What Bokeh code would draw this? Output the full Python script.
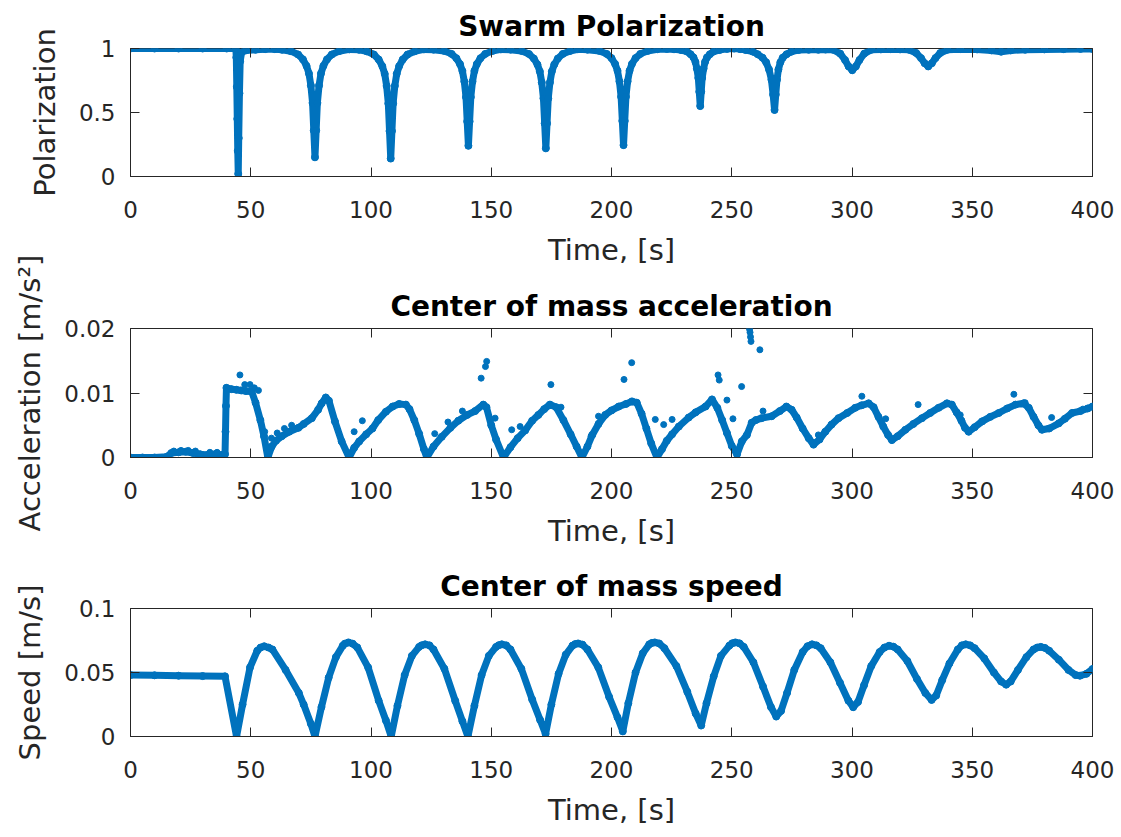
from bokeh.plotting import figure
from bokeh.layouts import column
from bokeh.models import Range1d, FixedTicker, LinearAxis
from bokeh.embed import file_html
from bokeh.resources import INLINE

# ---------------- data ----------------
x_ticks = [0, 50, 100, 150, 200, 250, 300, 350, 400]
pol_ticks = [0, 0.5, 1]
pol_tick_labels = ["0", "0.5", "1"]
acc_ticks = [0, 0.01, 0.02]
acc_tick_labels = ["0", "0.01", "0.02"]
spd_ticks = [0, 0.05, 0.1]
spd_tick_labels = ["0", "0.05", "0.1"]

titles = ["Swarm Polarization", "Center of mass acceleration", "Center of mass speed"]
x_label = "Time, [s]"
y_labels = ["Polarization", "Acceleration [m/s\u00b2]", "Speed [m/s]"]

pol_time = [0, 10, 20, 30, 40, 43.8, 44.0, 44.2, 44.4, 44.6, 44.8, 45.0, 45.3, 45.6, 46.2, 48, 52, 56, 60, 63,
            66.7, 69.7, 71.7, 73.2, 74.2, 75.0, 75.7, 76.2, 76.7, 77.2, 77.7, 78.4, 79.2, 80.2, 81.7, 83.7, 86.7,
            91, 95,
            98.2, 101.2, 103.2, 104.7, 105.7, 106.5, 107.2, 107.7, 108.2, 108.7, 109.2, 109.9, 110.7, 111.7, 113.2, 115.2, 118.2,
            122, 126,
            130.5, 133.5, 135.5, 137.0, 138.0, 138.8, 139.5, 140.0, 140.5, 141.0, 141.5, 142.2, 143.0, 144.0, 145.5, 147.5, 150.5,
            154, 158,
            162.7, 165.7, 167.7, 169.2, 170.2, 171.0, 171.7, 172.2, 172.7, 173.2, 173.7, 174.4, 175.2, 176.2, 177.7, 179.7, 182.7,
            186, 190,
            195.0, 198.0, 200.0, 201.5, 202.5, 203.3, 204.0, 204.5, 205.0, 205.5, 206.0, 206.7, 207.5, 208.5, 210.0, 212.0, 215.0,
            219, 223, 226,
            228.9, 231.4, 232.9, 234.1, 234.9, 235.5, 236.1, 236.5, 236.9, 237.3, 237.7, 238.3, 238.9, 239.7, 240.9, 242.4, 244.9,
            248, 251, 253.5,
            255.8, 258.8, 260.8, 262.8, 264.3, 265.5, 266.5, 267.2, 267.8, 268.3, 268.8, 269.4, 270.2, 271.2, 272.8, 274.8, 277.8,
            282, 286, 289,
            292.1, 295.1, 297.1, 298.6, 300.1, 301.6, 303.1, 305.1, 308.1,
            312, 316, 320,
            323.7, 326.7, 328.7, 330.2, 331.7, 333.2, 334.7, 336.7, 339.7,
            345, 352, 358, 362, 366, 372, 380, 388, 395, 400]
pol_value = [1.0, 1.0, 1.0, 1.0, 1.0, 1.0, 0.93, 0.7, 0.45, 0.2, 0.02, 0.3, 0.65, 0.9, 0.97, 0.985, 0.99, 0.995, 0.995, 0.99,
             0.979, 0.953, 0.915, 0.864, 0.805, 0.711, 0.575, 0.36, 0.15, 0.36, 0.575, 0.711, 0.805, 0.864, 0.915, 0.953, 0.979,
             0.993, 0.99,
             0.978, 0.953, 0.914, 0.862, 0.802, 0.708, 0.57, 0.355, 0.14, 0.355, 0.57, 0.708, 0.802, 0.862, 0.914, 0.953, 0.978,
             0.993, 0.991,
             0.981, 0.958, 0.924, 0.878, 0.825, 0.742, 0.62, 0.43, 0.24, 0.43, 0.62, 0.742, 0.825, 0.878, 0.924, 0.958, 0.981,
             0.993, 0.991,
             0.98, 0.957, 0.922, 0.875, 0.821, 0.735, 0.61, 0.415, 0.22, 0.415, 0.61, 0.735, 0.821, 0.875, 0.922, 0.957, 0.98,
             0.994, 0.991,
             0.981, 0.958, 0.925, 0.879, 0.826, 0.743, 0.623, 0.434, 0.245, 0.434, 0.623, 0.743, 0.826, 0.879, 0.925, 0.958, 0.981,
             0.994, 0.997, 0.994,
             0.988, 0.976, 0.955, 0.93, 0.895, 0.843, 0.77, 0.662, 0.55, 0.662, 0.77, 0.843, 0.895, 0.93, 0.955, 0.976, 0.988,
             0.997, 1.0, 0.995,
             0.988, 0.975, 0.955, 0.928, 0.892, 0.836, 0.756, 0.64, 0.52, 0.64, 0.756, 0.836, 0.892, 0.928, 0.955, 0.975, 0.988,
             0.99, 0.99, 0.992,
             0.99, 0.96, 0.91, 0.86, 0.83, 0.86, 0.91, 0.96, 0.99,
             0.993, 0.995, 0.993,
             0.99, 0.965, 0.925, 0.885, 0.86, 0.885, 0.925, 0.965, 0.99,
             0.995, 0.993, 0.985, 0.975, 0.985, 0.99, 0.993, 0.995, 0.997, 0.997]

acc_time = [0, 5, 10, 15, 17, 20, 23, 26, 29, 32, 35, 38, 39.3, 39.5, 39.7, 39.9, 42, 44, 46, 48, 50.4,
            52, 54, 55.5, 57.1, 58.7, 60.5, 62.9, 66, 69.8, 72, 75.4, 78, 79.5, 81.2, 82.5, 85, 87.8, 90.9,
            93, 95.1, 98, 100.6, 103, 106.2, 109, 111.7, 114.5, 116, 118, 120, 122, 123.2,
            126, 129.4, 133, 136.3, 140, 143.3, 146.7, 148, 150, 152, 155.1,
            158, 161, 164.1, 167, 169.6, 172, 174.4, 177, 180, 183, 185.5, 187.7,
            190, 192, 194.6, 197.4, 200, 203, 206, 208.5, 210.5, 212.5, 214.5, 216.5, 218.9,
            221, 223, 225.2, 228, 232.1, 235, 239.1, 241.8, 244, 246, 248, 250, 252.2,
            254.2, 256.3, 258.3, 260, 262.4, 266.6, 270, 272.7, 274.9, 277, 279.5, 282, 284,
            286.5, 288.9, 291.5, 294.4, 298, 301.3, 304, 306.9, 309, 311, 313, 315, 316.6,
            319, 322.2, 325.5, 329.1, 332.5, 336, 339.5, 341.5, 343.5, 345.5, 347, 348.5,
            351, 354.1, 357.5, 361, 364.5, 368, 371.4, 373.5, 375.5, 377.5, 379,
            382, 386, 388.5, 391.5, 395, 398, 400]
acc_value = [0, 0, 0, 0.0001, 0.0007, 0.0008, 0.0009, 0.0007, 0.0005, 0.0004, 0.0005, 0.0004, 0.0005, 0.004, 0.008, 0.0108, 0.0106, 0.0105, 0.0104, 0.0103, 0.0102,
             0.0085, 0.0058, 0.0033, 0.0, 0.0017, 0.0026, 0.0033, 0.004, 0.0046, 0.0052, 0.0061, 0.0074, 0.0084, 0.0093, 0.0088, 0.0056, 0.0025, 0.0,
             0.0015, 0.0025, 0.0036, 0.0045, 0.0058, 0.0071, 0.0079, 0.0083, 0.0082, 0.0075, 0.0058, 0.0037, 0.0013, 0.0,
             0.0017, 0.0032, 0.0046, 0.0057, 0.0066, 0.0072, 0.0082, 0.0078, 0.005, 0.0028, 0.0,
             0.0016, 0.003, 0.0042, 0.0057, 0.0066, 0.0075, 0.0082, 0.0078, 0.0058, 0.0036, 0.0017, 0.0,
             0.0017, 0.0035, 0.0052, 0.0066, 0.0073, 0.0079, 0.0083, 0.0087, 0.0085, 0.0068, 0.0045, 0.0022, 0.0,
             0.0013, 0.0026, 0.0036, 0.0048, 0.0062, 0.007, 0.0079, 0.009, 0.0077, 0.0058, 0.0038, 0.0018, 0.0005,
             0.0025, 0.0035, 0.0054, 0.0058, 0.0061, 0.0064, 0.0072, 0.0079, 0.0074, 0.0062, 0.0045, 0.003, 0.002,
             0.0028, 0.004, 0.0051, 0.0061, 0.0069, 0.0077, 0.0081, 0.0084, 0.0078, 0.0063, 0.0048, 0.0035, 0.0027,
             0.0033, 0.0043, 0.0052, 0.0061, 0.0069, 0.0077, 0.0084, 0.0082, 0.007, 0.0057, 0.0046, 0.004,
             0.0047, 0.0056, 0.0063, 0.0069, 0.0076, 0.0082, 0.0084, 0.0077, 0.0063, 0.005, 0.0043,
             0.0045, 0.0053, 0.006, 0.0069, 0.0072, 0.0076, 0.0079]

acc_out_time = [18, 21, 24, 27, 33, 36, 45.5, 47.5, 49.7, 51.5, 53.2, 55.8, 58.6, 61, 64, 67, 93, 96.4,
                126.5, 132, 138, 145.8, 147.6, 148.1, 151.6, 158.5, 162, 174.8, 179, 191.5, 194.6,
                205.2, 208.4, 218.2, 221.7, 225.2, 244.3, 244.8, 248, 250.5, 254.1,
                257.4, 257.6, 257.8, 258.0, 261.7, 263, 286, 304.1, 314, 327.5, 345, 367.3, 372, 383, 396]
acc_out_value = [0.001, 0.0011, 0.0011, 0.001, 0.0008, 0.0008, 0.0128, 0.0113, 0.0113, 0.0108, 0.0104, 0.004, 0.003, 0.0038, 0.0045, 0.005, 0.004, 0.0057,
                 0.0037, 0.0055, 0.0072, 0.0123, 0.0141, 0.0149, 0.0061, 0.0043, 0.0048, 0.0113, 0.0078, 0.0033, 0.0064,
                 0.0121, 0.0147, 0.0059, 0.0051, 0.0059, 0.0128, 0.012, 0.0089, 0.006, 0.011,
                 0.0199, 0.0194, 0.0187, 0.018, 0.0167, 0.0072, 0.0035, 0.0095, 0.006, 0.0082, 0.0066, 0.0098, 0.0085, 0.0062, 0.0075]

spd_time = [0, 10, 20, 30, 39.3, 44.1, 46.6, 49.7, 52.7, 54.1, 55.6, 57.4, 59, 64.5, 70, 72, 75, 76.7,
            79.4, 82.4, 85.4, 88.3, 89.1, 90.6, 92.4, 94.3, 98.8, 103.2, 106.2, 108.4,
            111, 114, 117, 120, 121, 122.5, 124.3, 126, 130.5, 135, 138, 140.3,
            143, 146, 149, 152, 153.1, 154.4, 156.2, 158, 162.5, 167, 170.3, 172.6,
            175, 178, 181, 183.8, 184.9, 186.1, 187.9, 190, 194.5, 199, 202.5, 204.7,
            207, 210, 213, 215.7, 216.8, 218, 219.8, 222, 227, 231.5, 235, 237.3,
            239.5, 242.5, 245.5, 249, 250.2, 251.5, 253.2, 255, 259, 263, 266.3, 268.5,
            270.5, 273, 276, 279.5, 281.5, 283.4, 285.2, 287, 291, 295, 298.5, 300.5,
            302.5, 305, 308, 311.5, 313.5, 315.4, 317.2, 319, 323, 327, 330.5, 333.1,
            335, 337.5, 340.5, 344, 345.7, 347.3, 349.1, 351, 355, 359, 362, 364.1,
            366, 369, 372.5, 375.5, 377, 378.5, 380.2, 382, 386, 390, 393, 394.8, 397.5, 400]
spd_value = [0.048, 0.0478, 0.0475, 0.0472, 0.047, 0.0, 0.025, 0.054, 0.067, 0.0695, 0.0705, 0.0695, 0.068, 0.052, 0.034, 0.025, 0.010, 0.0,
             0.023, 0.046, 0.062, 0.071, 0.0725, 0.0735, 0.0725, 0.0696, 0.054, 0.028, 0.0125, 0.0,
             0.024, 0.048, 0.063, 0.070, 0.0712, 0.072, 0.0712, 0.068, 0.053, 0.028, 0.012, 0.0,
             0.024, 0.048, 0.063, 0.070, 0.0713, 0.072, 0.0712, 0.068, 0.053, 0.029, 0.013, 0.002,
             0.025, 0.049, 0.064, 0.071, 0.0722, 0.0727, 0.0718, 0.068, 0.054, 0.031, 0.015, 0.004,
             0.026, 0.050, 0.065, 0.072, 0.0731, 0.0735, 0.0727, 0.069, 0.055, 0.035, 0.018, 0.0086,
             0.026, 0.047, 0.063, 0.071, 0.0728, 0.0735, 0.0728, 0.070, 0.058, 0.039, 0.023, 0.0156,
             0.020, 0.034, 0.052, 0.066, 0.0705, 0.072, 0.0712, 0.069, 0.058, 0.042, 0.028, 0.0229,
             0.027, 0.040, 0.055, 0.066, 0.0695, 0.0709, 0.0702, 0.068, 0.059, 0.045, 0.034, 0.0286,
             0.032, 0.044, 0.057, 0.068, 0.0712, 0.072, 0.0712, 0.069, 0.061, 0.050, 0.043, 0.0405,
             0.043, 0.052, 0.062, 0.068, 0.0695, 0.070, 0.0692, 0.067, 0.060, 0.052, 0.048, 0.0475, 0.049, 0.0527]

# ---------------- styling ----------------
BLUE = "#0072BD"
AX = "#262626"
FONT = "DejaVu Sans"


def make_fig(title, ylabel, yr, yticks, ytick_labels, height, top, bottom, margin_top=0):
    p = figure(width=1121, height=height, x_range=Range1d(0, 400), y_range=Range1d(*yr),
               output_backend="svg", toolbar_location=None,
               min_border_left=130, min_border_right=29,
               min_border_top=top, min_border_bottom=bottom)
    if margin_top:
        p.margin = (margin_top, 0, 0, 0)
    p.border_fill_color = None
    p.background_fill_color = "white"
    p.outline_line_color = AX
    p.outline_line_width = 1
    p.grid.visible = False

    p.title.text = title
    p.title.align = "center"
    p.title.text_font = FONT
    p.title.text_font_size = "28px"
    p.title.text_font_style = "bold"
    p.title.text_color = "black"
    p.title.text_line_height = 1.0
    p.title.standoff = 11

    xa = p.xaxis[0]
    xa.ticker = FixedTicker(ticks=x_ticks)
    xa.axis_label = x_label
    ya = p.yaxis[0]
    ya.ticker = FixedTicker(ticks=yticks)
    ya.major_label_overrides = dict(zip(yticks, ytick_labels))
    ya.axis_label = ylabel
    for a in (xa, ya):
        a.axis_line_color = AX
        a.major_tick_line_color = AX
        a.major_tick_in = 9
        a.major_tick_out = 0
        a.minor_tick_line_color = None
        a.major_label_text_font = FONT
        a.major_label_text_font_size = "23px"
        a.major_label_text_color = AX
        a.axis_label_text_font = FONT
        a.axis_label_text_font_size = "29px"
        a.axis_label_text_font_style = "normal"
        a.axis_label_text_color = AX
    xa.major_label_standoff = 24
    xa.axis_label_standoff = 12
    ya.major_label_standoff = 15
    ya.axis_label_standoff = 14

    # mirrored ticks on top and right (box on), without labels
    ta = LinearAxis(ticker=FixedTicker(ticks=x_ticks))
    ra = LinearAxis(ticker=FixedTicker(ticks=yticks))
    for a in (ta, ra):
        a.axis_line_color = None
        a.major_tick_line_color = AX
        a.major_tick_in = 9
        a.major_tick_out = 0
        a.minor_tick_line_color = None
        a.major_label_text_color = None
        a.major_label_text_font_size = "1px"
        a.major_label_standoff = 0
    p.add_layout(ta, "above")
    p.add_layout(ra, "right")
    return p


p1 = make_fig(titles[0], y_labels[0], (0, 1), pol_ticks, pol_tick_labels, 280, 48, 104)
p1.line(pol_time, pol_value, line_width=7, color=BLUE, line_join="round", line_cap="round")
p1.scatter(pol_time, pol_value, size=7, color=BLUE, marker="circle")

p2 = make_fig(titles[1], y_labels[1], (0, 0.02), acc_ticks, acc_tick_labels, 330, 98, 103, margin_top=-50)
p2.line(acc_time, acc_value, line_width=7, color=BLUE, line_join="round", line_cap="round")
p2.scatter(acc_time, acc_value, size=7, color=BLUE, marker="circle")
p2.scatter(acc_out_time, acc_out_value, size=6, color=BLUE, marker="circle")

p3 = make_fig(titles[2], y_labels[2], (0, 0.1), spd_ticks, spd_tick_labels, 277, 48, 101)
p3.line(spd_time, spd_value, line_width=7, color=BLUE, line_join="round", line_cap="round")
p3.scatter(spd_time, spd_value, size=7, color=BLUE, marker="circle")

layout = column(p1, p2, p3, spacing=0)
open("out.html", "w").write(file_html(layout, INLINE))
